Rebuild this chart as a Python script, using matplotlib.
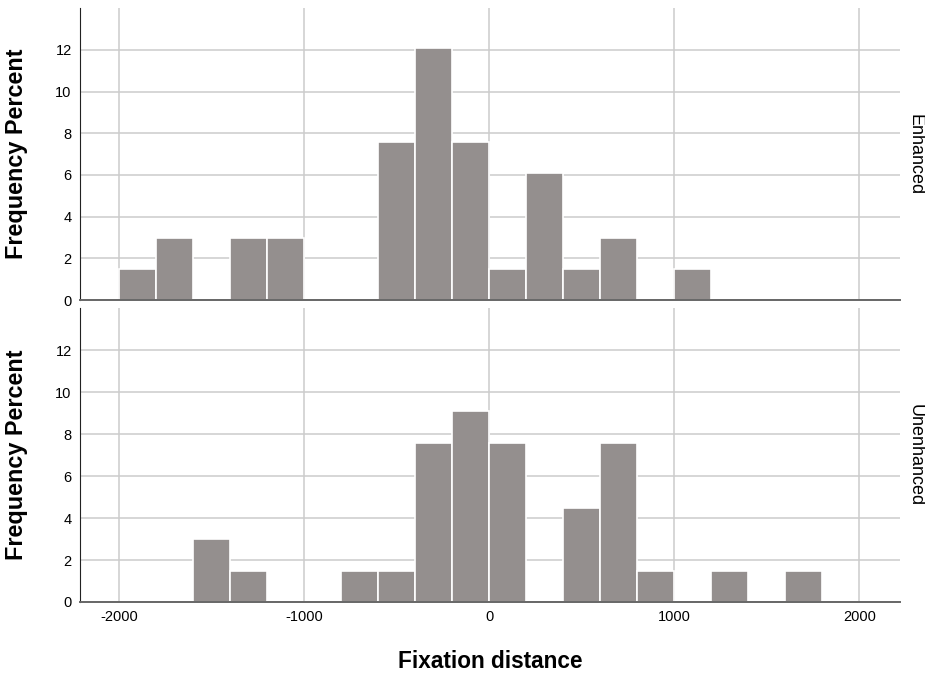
import numpy as np
import matplotlib
matplotlib.use("Agg")
import matplotlib.pyplot as plt

plt.rcParams['font.family'] = ['Liberation Sans', 'DejaVu Sans']
plt.rcParams['axes.unicode_minus'] = False

# bin left edges (width 200) and percent of all cases in each bin
bin_lefts = list(range(-2000, 2000, 200))
bin_width = 200
enhanced = [1.5, 3.0, 0, 3.0, 3.0, 0, 0, 7.6, 12.1, 7.6,
            1.5, 6.1, 1.5, 3.0, 0, 1.5, 0, 0, 0, 0]
unenhanced = [0, 0, 3.0, 1.5, 0, 0, 1.5, 1.5, 7.6, 9.1,
              7.6, 0, 4.5, 7.6, 1.5, 0, 1.5, 0, 1.5, 0]
panels = [('Enhanced', enhanced), ('Unenhanced', unenhanced)]

x_ticks = [-2000, -1000, 0, 1000, 2000]
y_ticks = [0, 2, 4, 6, 8, 10, 12]

fig = plt.figure(figsize=(9.25, 6.73), dpi=100)
boxes = [[0.0865, 0.554, 0.8865, 0.434], [0.0865, 0.1055, 0.8865, 0.4365]]

for (name, vals), box in zip(panels, boxes):
    ax = fig.add_axes(box)
    ax.bar(bin_lefts, vals, width=bin_width, align='edge', color='#948f8e',
           edgecolor='white', linewidth=1.2, zorder=3)
    ax.set_xlim(-2210, 2220)
    ax.set_ylim(0, 14)
    ax.set_xticks(x_ticks)
    ax.set_yticks(y_ticks)
    ax.grid(True, color='#cccccc', linewidth=1.1, zorder=0)
    ax.set_axisbelow(True)
    for s in ['top', 'right']:
        ax.spines[s].set_visible(False)
    ax.spines['left'].set_color('#222222')
    ax.spines['bottom'].set_color('#666666')
    ax.spines['bottom'].set_linewidth(1.4)
    ax.spines['bottom'].set_zorder(5)
    ax.spines['left'].set_zorder(5)
    ax.tick_params(length=0, labelsize=10.5, pad=6)
    ax.set_ylabel('Frequency Percent', fontsize=16.8, fontweight='bold')
    ax.yaxis.set_label_coords(-0.064, 0.5)
    ax.text(1.018, 0.5, name, transform=ax.transAxes, rotation=270,
            ha='center', va='center', fontsize=13)
    if name == 'Enhanced':
        ax.tick_params(labelbottom=False)
    else:
        ax.set_xlabel('Fixation distance', fontsize=16.3, fontweight='bold')
        ax.xaxis.set_label_coords(0.5, -0.163)

plt.savefig('out.png', dpi=100)
